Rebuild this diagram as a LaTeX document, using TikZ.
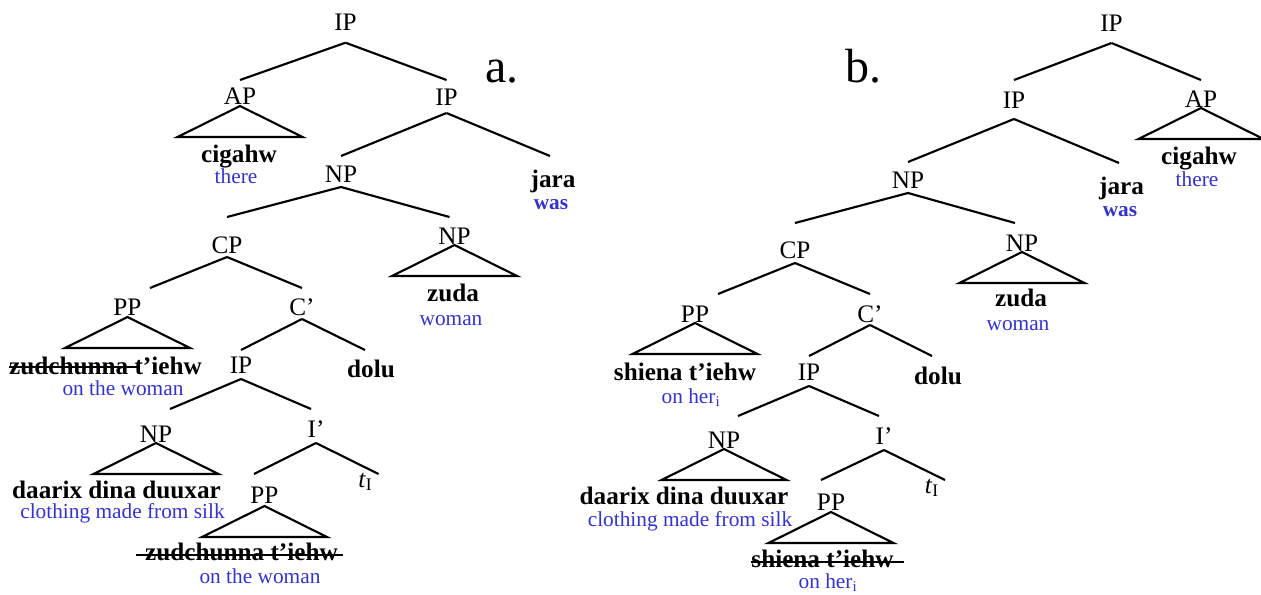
\documentclass[tikz,border=0pt]{standalone}
\usepackage{fontspec}
\setmainfont{Liberation Serif}
\definecolor{glossblue}{RGB}{51,51,204}
\newcommand{\catf}{\fontsize{18.9pt}{22pt}\selectfont}
\newcommand{\wordf}{\fontsize{18.9pt}{22pt}\selectfont\bfseries}
\newcommand{\glossf}{\fontsize{16pt}{19pt}\selectfont}
\newcommand{\exf}{\fontsize{36pt}{40pt}\selectfont}
\begin{document}
\begin{tikzpicture}[x=0.75pt,y=-0.75pt,
  cat/.style={font=\catf, anchor=base, inner sep=0pt, outer sep=0pt,
              text height=20.25pt, text depth=3pt},
  word/.style={font=\wordf, anchor=base, inner sep=0pt, outer sep=0pt},
  gloss/.style={font=\glossf, text=glossblue, anchor=base, inner sep=0pt},
  exlabel/.style={font=\exf, anchor=base, inner sep=0pt},
  branch/.style={line width=1.6pt},
  strike/.style={line width=1.5pt},
  hd/.style 2 args={text height=#1, text depth=#2}]
\useasboundingbox (0,0) rectangle (1261,594);

% ---------------- tree (a) ----------------
\node[exlabel] (labA) at (502,82) {a.};

\node[cat, hd={18pt}{9.525pt}]  (ipA)   at (345.5,30)  {IP};
\node[cat, hd={18pt}{1.5pt}]    (apA)   at (240,104)   {AP};
\node[cat, hd={18.75pt}{6pt}]   (ipA2)  at (446.5,105) {IP};
\node[cat, hd={19.5pt}{3.75pt}] (npA)   at (341,182)   {NP};
\node[cat, hd={27pt}{3pt}]      (cpA)   at (227,253)   {CP};
\node[cat, hd={20.25pt}{0.75pt}] (npA2) at (454.5,244) {NP};
\node[cat, hd={20.25pt}{1.5pt}] (ppA)   at (127.5,315) {PP};
\node[cat, hd={20.25pt}{3pt}]   (cbarA) at (302,315)   {C’};
\node[cat, hd={17.25pt}{4.5pt}] (ipA3)  at (241,373)   {IP};
\node[cat, hd={24.75pt}{0.75pt}] (npA3) at (156,442)   {NP};
\node[cat, hd={21pt}{4.5pt}]    (ibarA) at (316,437)   {I’};
\node[cat, hd={21.75pt}{2.25pt}] (ppA2) at (264.5,503) {PP};
\node[cat, hd={9.75pt}{3pt}]    (tA)    at (365.5,487) {\textit{t}\textsubscript{I}};

\node[word]                    (cigahwA) at (239,162) {cigahw};
\node[gloss]                   (thereA)  at (236,183) {there};
\node[word, hd={23.25pt}{4pt}] (jaraA)   at (553,187) {jara};
\node[gloss, font=\glossf\bfseries] (wasA) at (551,209) {was};
\node[word]                    (zudaA)   at (453,301) {zuda};
\node[gloss]                   (womanA)  at (451,325) {woman};
\node[word]                    (zudA)    at (105.5,374) {zudchunna t’iehw};
\node[gloss]                   (ontheA)  at (123,395) {on the woman};
\node[word, hd={20.25pt}{1pt}] (doluA)   at (371,377) {dolu};
\node[word]                    (daarixA) at (116.5,498) {daarix dina duuxar};
\node[gloss]                   (clothA)  at (122.5,518) {clothing made from silk};
\node[word]                    (zudA2)   at (241.5,560) {zudchunna t’iehw};
\node[gloss]                   (ontheA2) at (260,583) {on the woman};

\draw[branch] (ipA.south) -- (apA.north);
\draw[branch] (ipA.south) -- (ipA2.north);
\draw[branch] (ipA2.south) -- (npA.north);
\draw[branch] (ipA2.south) -- ([shift={(-3,0)}]jaraA.north);
\draw[branch] (npA.south) -- (cpA.north);
\draw[branch] (npA.south) -- ([shift={(-5,0)}]npA2.north);
\draw[branch] (cpA.south) -- ([shift={(22.5,0)}]ppA.north);
\draw[branch] (cpA.south) -- (cbarA.north);
\draw[branch] (cbarA.south) -- (ipA3.north);
\draw[branch] (cbarA.south) -- ([shift={(-6,0)}]doluA.north);
\draw[branch] (ipA3.south) -- ([shift={(14,0)}]npA3.north);
\draw[branch] (ipA3.south) -- ([shift={(-5,0)}]ibarA.north);
\draw[branch] (ibarA.south) -- ([shift={(-10.5,0)}]ppA2.north);
\draw[branch] (ibarA.south) -- ([shift={(13,0)}]tA.north);

\foreach \n in {apA,npA2,ppA,npA3,ppA2}
  \draw[branch] (\n.south) -- ++(-62.5,31) -- ++(125,0) -- cycle;

\draw[strike] ([shift={(0,-7)}]zudA.base west) -- ++(129,0);
\draw[strike] ([shift={(-9,-5)}]zudA2.base west) -- ([shift={(5,-5)}]zudA2.base east);

% ---------------- tree (b) ----------------
\node[exlabel] (labB) at (863,82) {b.};

\node[cat, hd={18pt}{9pt}]       (ipB)   at (1111.5,31) {IP};
\node[cat, hd={21pt}{8.25pt}]    (ipB2)  at (1014,108)  {IP};
\node[cat, hd={20.25pt}{0.75pt}] (apB)   at (1201,107)  {AP};
\node[cat, hd={19.5pt}{3.75pt}]  (npB)   at (908,188)   {NP};
\node[cat, hd={26.25pt}{3.75pt}] (cpB)   at (795,258)   {CP};
\node[cat, hd={21pt}{0.75pt}]    (npB2)  at (1022,251)  {NP};
\node[cat, hd={21pt}{0.75pt}]    (ppB)   at (695,322)   {PP};
\node[cat, hd={21pt}{2.25pt}]    (cbarB) at (870,322)   {C’};
\node[cat, hd={18pt}{4.5pt}]     (ipB3)  at (809,380)   {IP};
\node[cat, hd={24pt}{0.75pt}]    (npB3)  at (724,448)   {NP};
\node[cat, hd={21pt}{4.5pt}]     (ibarB) at (884,444)   {I’};
\node[cat, hd={22.5pt}{1.5pt}]   (ppB2)  at (831,510)   {PP};
\node[cat, hd={9.75pt}{3pt}]     (tB)    at (932,493)   {\textit{t}\textsubscript{I}};

\node[word]                    (cigahwB)  at (1199,164)  {cigahw};
\node[gloss]                   (thereB)   at (1197,186)  {there};
\node[word, hd={23.25pt}{4pt}] (jaraB)    at (1121.5,194) {jara};
\node[gloss, font=\glossf\bfseries] (wasB) at (1120,216) {was};
\node[word]                    (zudaB)    at (1021,306)  {zuda};
\node[gloss]                   (womanB)   at (1018,330)  {woman};
\node[word]                    (shienaB)  at (685,380)   {shiena t’iehw};
\node[gloss]                   (onherB)   at (691,403)   {on her\textsubscript{i}};
\node[word, hd={21pt}{1pt}]    (doluB)    at (938,384)   {dolu};
\node[word]                    (daarixB)  at (684,504)   {daarix dina duuxar};
\node[gloss]                   (clothB)   at (690,526)   {clothing made from silk};
\node[word]                    (shienaB2) at (822.5,567) {shiena t’iehw};
\node[gloss]                   (onherB2)  at (828,588)   {on her\textsubscript{i}};

\draw[branch] (ipB.south) -- (ipB2.north);
\draw[branch] (ipB.south) -- (apB.north);
\draw[branch] (ipB2.south) -- (npB.north);
\draw[branch] (ipB2.south) -- ([shift={(-2.5,0)}]jaraB.north);
\draw[branch] (npB.south) -- (cpB.north);
\draw[branch] (npB.south) -- ([shift={(-7,0)}]npB2.north);
\draw[branch] (cpB.south) -- ([shift={(23,0)}]ppB.north);
\draw[branch] (cpB.south) -- (cbarB.north);
\draw[branch] (cbarB.south) -- (ipB3.north);
\draw[branch] (cbarB.south) -- ([shift={(-6,0)}]doluB.north);
\draw[branch] (ipB3.south) -- ([shift={(14,0)}]npB3.north);
\draw[branch] (ipB3.south) -- ([shift={(-5,0)}]ibarB.north);
\draw[branch] (ibarB.south) -- ([shift={(-10,0)}]ppB2.north);
\draw[branch] (ibarB.south) -- ([shift={(13,0)}]tB.north);

\foreach \n in {apB,npB2,ppB,npB3,ppB2}
  \draw[branch] (\n.south) -- ++(-62.5,31) -- ++(125,0) -- cycle;

\draw[strike] ([shift={(0,-5.5)}]shienaB2.base west) -- ([shift={(10,-5.5)}]shienaB2.base east);
\end{tikzpicture}
\end{document}
